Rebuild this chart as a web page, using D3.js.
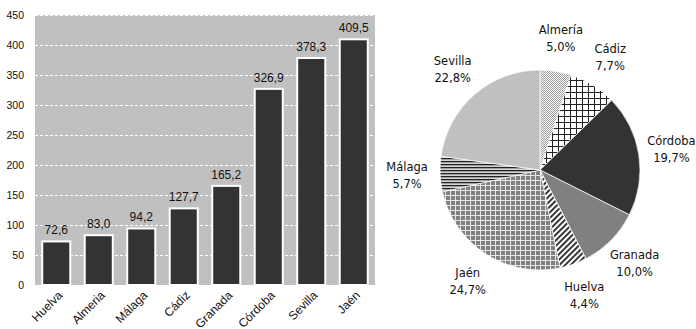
<!DOCTYPE html>
<html>
<head>
<meta charset="utf-8">
<script src="https://cdn.jsdelivr.net/npm/d3@7"></script>
<style>
  body { margin: 0; background: #fff; }
  svg { display: block; }
</style>
</head>
<body>
<svg width="696" height="329"></svg>
<script>
// bar chart data
var provinces = ["Huelva", "Almeria", "Málaga", "Cádiz", "Granada", "Córdoba", "Sevilla", "Jaén"];
var values = [72.6, 83.0, 94.2, 127.7, 165.2, 326.9, 378.3, 409.5];
var yTicks = [0, 50, 100, 150, 200, 250, 300, 350, 400, 450];

// pie data (clockwise from 12 o'clock)
var pieNames = ["Almería", "Cádiz", "Córdoba", "Granada", "Huelva", "Jaén", "Málaga", "Sevilla"];
var pieShares = [5.0, 7.7, 19.7, 10.0, 4.4, 24.7, 5.7, 22.8];

function fmt(v) { return v.toFixed(1).replace(".", ","); }

var svg = d3.select("svg");
var defs = svg.append("defs");
var sans = "'Liberation Sans', Arial, sans-serif";

// ---- patterns for the pie
var p;
p = defs.append("pattern").attr("id", "pDots").attr("patternUnits", "userSpaceOnUse")
  .attr("width", 2).attr("height", 2);
p.append("rect").attr("width", 2).attr("height", 2).attr("fill", "#fff");
p.append("rect").attr("width", 1).attr("height", 1).attr("fill", "#9a9a9a");
p.append("rect").attr("x", 1).attr("y", 1).attr("width", 1).attr("height", 1).attr("fill", "#9a9a9a");

p = defs.append("pattern").attr("id", "pGrid").attr("patternUnits", "userSpaceOnUse")
  .attr("width", 6).attr("height", 6);
p.append("rect").attr("width", 6).attr("height", 6).attr("fill", "#fff");
p.append("path").attr("d", "M0,0.5H6M0.5,0V6").attr("stroke", "#222").attr("stroke-width", 1);

p = defs.append("pattern").attr("id", "pDiag").attr("patternUnits", "userSpaceOnUse")
  .attr("width", 4).attr("height", 4).attr("patternTransform", "rotate(45)");
p.append("rect").attr("width", 4).attr("height", 4).attr("fill", "#fff");
p.append("rect").attr("width", 1.8).attr("height", 4).attr("fill", "#222");

p = defs.append("pattern").attr("id", "pWhiteGrid").attr("patternUnits", "userSpaceOnUse")
  .attr("width", 5).attr("height", 5);
p.append("rect").attr("width", 5).attr("height", 5).attr("fill", "#808080");
p.append("path").attr("d", "M0,0.5H5M0.5,0V5").attr("stroke", "#e6e6e6").attr("stroke-width", 1);

p = defs.append("pattern").attr("id", "pHoriz").attr("patternUnits", "userSpaceOnUse")
  .attr("width", 3).attr("height", 3);
p.append("rect").attr("width", 3).attr("height", 3).attr("fill", "#d4d4d4");
p.append("rect").attr("width", 3).attr("height", 1.3).attr("fill", "#222");

var pieFills = ["url(#pDots)", "url(#pGrid)", "#333333", "#808080", "url(#pDiag)",
  "url(#pWhiteGrid)", "url(#pHoriz)", "#c0c0c0"];

// ---- bar chart
var plotL = 35, plotR = 375, plotT = 15, plotB = 285;

var x = d3.scaleBand().domain(provinces).range([plotL, plotR])
  .paddingInner(0.34).paddingOuter(0.17);
var y = d3.scaleLinear().domain([0, 450]).range([plotB, plotT]);

svg.append("rect")
  .attr("x", plotL).attr("y", plotT)
  .attr("width", plotR - plotL).attr("height", plotB - plotT)
  .attr("fill", "#c0c0c0");

svg.append("g").selectAll("line")
  .data(yTicks)
  .enter().append("line")
  .attr("x1", plotL).attr("x2", plotR)
  .attr("y1", function (d) { return y(d) + 0.5; })
  .attr("y2", function (d) { return y(d) + 0.5; })
  .attr("stroke", "#fff")
  .attr("stroke-width", 1)
  .attr("stroke-dasharray", "3,2");

var yAxis = svg.append("g")
  .attr("transform", "translate(" + plotL + ",0)")
  .call(d3.axisLeft(y).tickValues(yTicks).tickSize(0).tickPadding(11));
yAxis.select(".domain").remove();
yAxis.selectAll("text")
  .attr("font-family", sans)
  .attr("font-size", 10.5)
  .attr("fill", "#111");

svg.append("g").selectAll("rect")
  .data(values)
  .enter().append("rect")
  .attr("x", function (d, i) { return x(provinces[i]); })
  .attr("y", function (d) { return y(d); })
  .attr("width", x.bandwidth())
  .attr("height", function (d) { return plotB - y(d); })
  .attr("fill", "#333333")
  .attr("stroke", "#fff")
  .attr("stroke-width", 2);

svg.append("g").selectAll("text")
  .data(values)
  .enter().append("text")
  .attr("x", function (d, i) { return x(provinces[i]) + x.bandwidth() / 2; })
  .attr("y", function (d) { return y(d) - 7; })
  .attr("text-anchor", "middle")
  .attr("font-family", sans)
  .attr("font-size", 12)
  .attr("fill", "#111")
  .text(fmt);

svg.append("g").selectAll("text")
  .data(provinces)
  .enter().append("text")
  .attr("transform", function (d) {
    return "translate(" + (x(d) + x.bandwidth() / 2 + 4) + "," + (plotB + 8) + ") rotate(-45)";
  })
  .attr("text-anchor", "end")
  .attr("dy", "0.35em")
  .attr("font-family", sans)
  .attr("font-size", 12)
  .attr("fill", "#111")
  .text(function (d) { return d; });

// ---- pie chart
var cx = 540, cy = 170, radius = 100;
var pie = d3.pie().sort(null);
var arcs = pie(pieShares);
var arc = d3.arc().innerRadius(0).outerRadius(radius);
var labelArc = d3.arc().innerRadius(133).outerRadius(133);

var pg = svg.append("g").attr("transform", "translate(" + cx + "," + cy + ")");

pg.selectAll("path")
  .data(arcs)
  .enter().append("path")
  .attr("d", arc)
  .attr("fill", function (d, i) { return pieFills[i]; })
  .attr("stroke", "#fff")
  .attr("stroke-width", 0.7);

var labels = pg.selectAll("text")
  .data(arcs)
  .enter().append("text")
  .attr("text-anchor", "middle")
  .attr("font-family", "'DejaVu Sans', sans-serif")
  .attr("font-size", 11.5)
  .attr("fill", "#111");

labels.append("tspan")
  .attr("x", function (d) { return labelArc.centroid(d)[0]; })
  .attr("y", function (d) { return labelArc.centroid(d)[1] - 4.5; })
  .text(function (d, i) { return pieNames[i]; });

labels.append("tspan")
  .attr("x", function (d) { return labelArc.centroid(d)[0]; })
  .attr("y", function (d) { return labelArc.centroid(d)[1] + 12.5; })
  .text(function (d, i) { return fmt(pieShares[i]) + "%"; });
</script>
</body>
</html>
